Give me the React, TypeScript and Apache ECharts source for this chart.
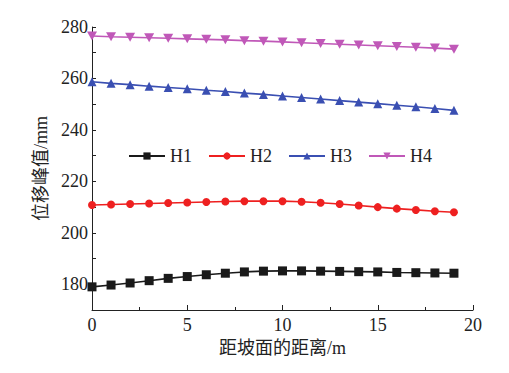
import React, { useEffect, useRef } from "react";
import * as echarts from "echarts";

const xValues = [0, 1, 2, 3, 4, 5, 6, 7, 8, 9, 10, 11, 12, 13, 14, 15, 16, 17, 18, 19];
const h1 = [179.0, 179.7, 180.5, 181.4, 182.3, 183.0, 183.7, 184.3, 184.8, 185.1, 185.2, 185.2, 185.1, 185.0, 184.9, 184.8, 184.6, 184.5, 184.4, 184.3];
const h2 = [210.8, 211.0, 211.2, 211.4, 211.6, 211.8, 212.0, 212.2, 212.3, 212.3, 212.3, 212.1, 211.7, 211.2, 210.6, 210.0, 209.4, 208.9, 208.4, 208.0];
const h3 = [258.7, 258.1, 257.6, 257.0, 256.5, 256.0, 255.4, 254.9, 254.3, 253.8, 253.2, 252.6, 252.0, 251.4, 250.8, 250.2, 249.6, 249.0, 248.3, 247.6];
const h4 = [276.5, 276.2, 276.0, 275.8, 275.6, 275.4, 275.2, 275.0, 274.7, 274.5, 274.2, 273.9, 273.6, 273.3, 273.0, 272.7, 272.4, 272.1, 271.8, 271.4];
const seriesNames = ["H1", "H2", "H3", "H4"];
const seriesColors = ["#1a1a1a", "#ee2020", "#3a4fb2", "#c058b8"];
const seriesSymbols = ["rect", "circle", "triangle", "path://M0,0 L10,0 L5,9 Z"];
const xTitle = "距坡面的距离/m";
const yTitle = "位移峰值/mm";

const FONT = '"Liberation Serif", "Noto Sans CJK SC", serif';

export default function App() {
  const ref = useRef<HTMLDivElement>(null);
  useEffect(() => {
    const chart = echarts.init(ref.current!, null, { renderer: "svg" });
    const all = [h1, h2, h3, h4];
    chart.setOption({
      animation: false,
      backgroundColor: "#ffffff",
      textStyle: { fontFamily: FONT, color: "#222" },
      grid: { left: 84, right: 44, top: 19, bottom: 71, containLabel: false },
      legend: {
        left: 115,
        top: 134,
        itemWidth: 36,
        itemHeight: 9,
        itemGap: 16,
        textStyle: { fontFamily: FONT, fontSize: 18, color: "#222" },
        data: seriesNames,
      },
      xAxis: {
        type: "value",
        min: 0,
        max: 20,
        interval: 5,
        name: xTitle,
        nameLocation: "middle",
        nameGap: 24,
        nameTextStyle: { fontFamily: FONT, fontSize: 18, color: "#222" },
        axisLine: { show: true, lineStyle: { color: "#222", width: 1 } },
        axisTick: { show: true, inside: true, length: 5, lineStyle: { color: "#222" } },
        minorTick: { show: true, splitNumber: 2, length: 3, lineStyle: { color: "#222" } },
        axisLabel: { fontFamily: FONT, fontSize: 18, color: "#222", margin: 6 },
        splitLine: { show: false },
      },
      yAxis: {
        type: "value",
        min: 170,
        max: 280,
        interval: 10,
        name: yTitle,
        nameLocation: "middle",
        nameGap: 39,
        nameRotate: 90,
        nameTextStyle: { fontFamily: FONT, fontSize: 18, color: "#222" },
        axisLine: { show: true, lineStyle: { color: "#222", width: 1 } },
        axisTick: { show: true, inside: true, length: 4, lineStyle: { color: "#222" } },
        axisLabel: {
          fontFamily: FONT,
          fontSize: 18,
          color: "#222",
          margin: 4,
          formatter: (v: number) => (v % 20 === 0 ? String(v) : ""),
        },
        splitLine: { show: false },
      },
      series: seriesNames.map((name, i) => ({
        name,
        type: "line",
        data: xValues.map((x, j) => [x, all[i][j]]),
        symbol: seriesSymbols[i],
        symbolSize: i === 1 ? 8 : i === 3 ? [10, 9] : 9,
        showSymbol: true,
        lineStyle: { color: seriesColors[i], width: 1.6 },
        itemStyle: { color: seriesColors[i] },
        z: 2,
      })),
    });
    return () => chart.dispose();
  }, []);
  return <div ref={ref} style={{ width: 509, height: 373 }} />;
}
